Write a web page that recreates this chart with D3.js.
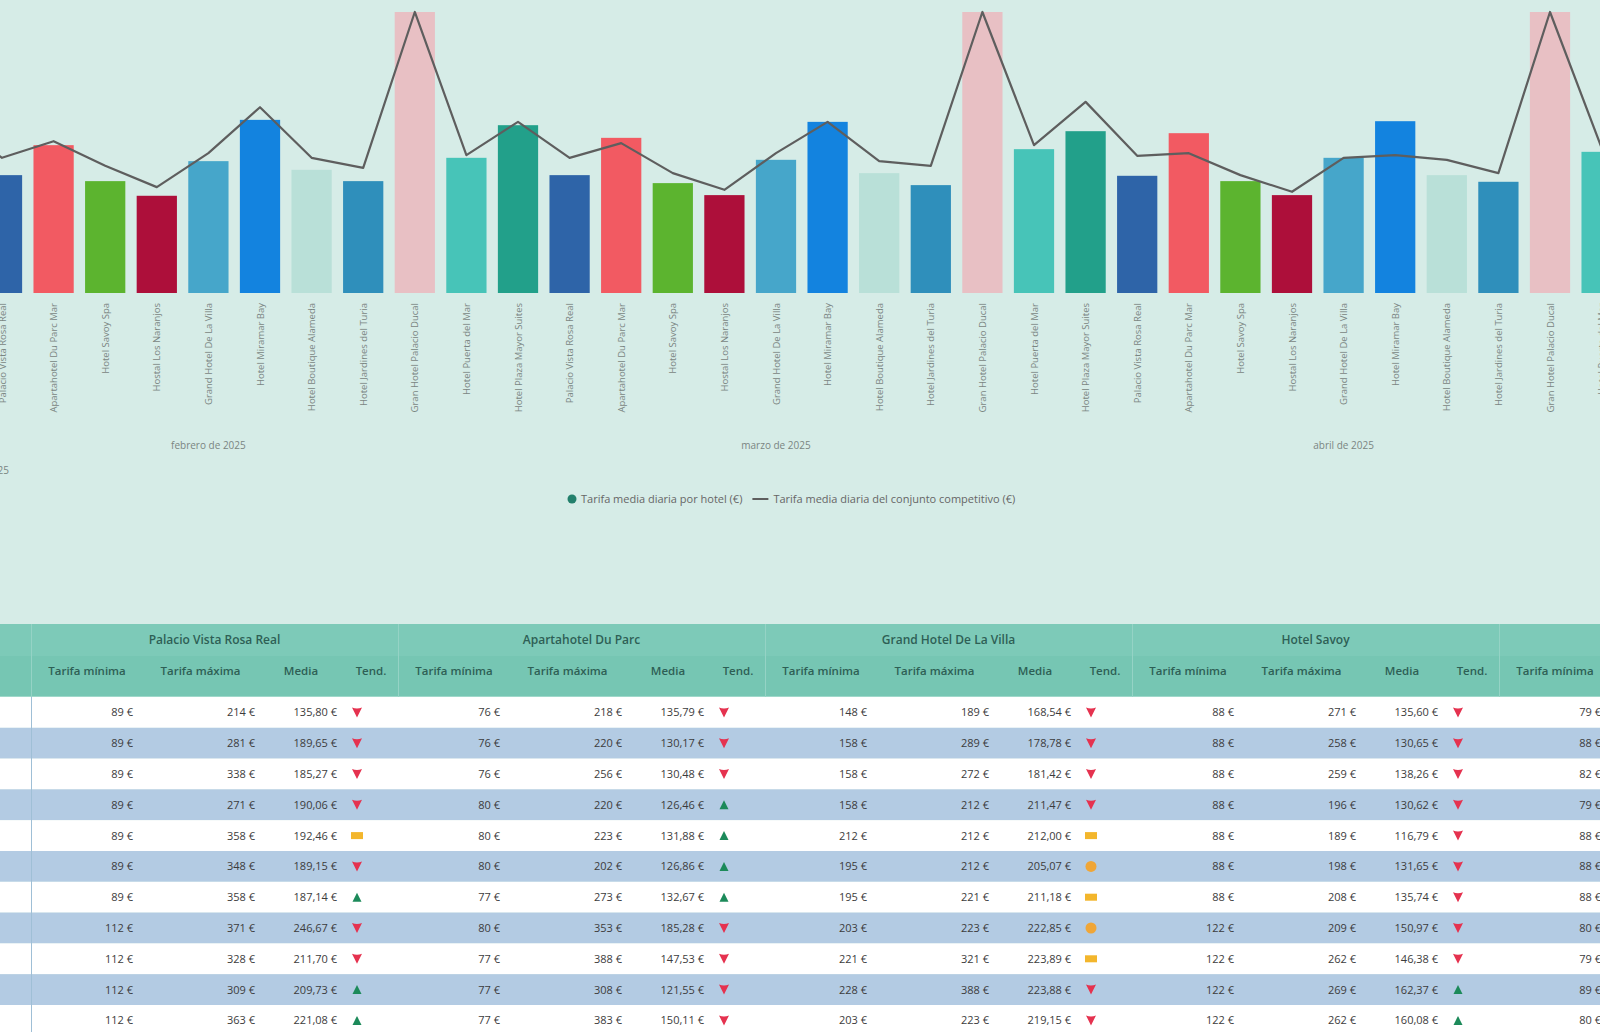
<!DOCTYPE html>
<html lang="es">
<head>
<meta charset="utf-8">
<script src="https://cdn.jsdelivr.net/npm/d3@7"></script>
<style>
  body { margin: 0; background: #d6ece7; overflow: hidden; }
  svg { display: block; font-family: 'Segoe UI', 'Open Sans', sans-serif; }
</style>
</head>
<body>
<div id="vis"></div>
<script>
const W = 1600, H = 1032;

// ---- bar + line chart data (three months, eleven hotels each)
const months = ['febrero de 2025', 'marzo de 2025', 'abril de 2025'];
const hotels = [
  'Hotel Plaza Mayor Suites', 'Palacio Vista Rosa Real', 'Apartahotel Du Parc Mar',
  'Hotel Savoy Spa', 'Hostal Los Naranjos', 'Grand Hotel De La Villa',
  'Hotel Miramar Bay', 'Hotel Boutique Alameda', 'Hotel Jardines del Turia',
  'Gran Hotel Palacio Ducal', 'Hotel Puerta del Mar'
];
const hotelColors = ['#22a08a', '#2e64a8', '#f25a62', '#5cb42f', '#ad0f3a', '#46a6ca',
                     '#1383df', '#b9e0d8', '#2f8fbb', '#e8c0c4', '#47c4b8'];
const priceFeb = [249, 177, 222, 168, 146, 198, 260, 185, 168, 422, 203];
const priceMar = [252, 177, 233, 165, 147, 200, 257, 180, 162, 422, 216];
const priceApr = [243, 176, 240, 168, 147, 203, 258, 177, 167, 422, 212];
const marketFeb = [259, 203, 228, 191, 159, 210, 279, 203, 188, 422, 207];
const marketMar = [257, 203, 225, 180, 155, 210, 257, 198, 191, 422, 222];
const marketApr = [287, 206, 210, 177, 152, 203, 207, 200, 180, 422, 218];

// ---- table data (rows = days, one block per hotel)
const tableHotels = ['Palacio Vista Rosa Real', 'Apartahotel Du Parc', 'Grand Hotel De La Villa', 'Hotel Savoy', ''];
const colNames = ['Tarifa mínima', 'Tarifa máxima', 'Media', 'Tend.'];
const minRates = [
  [89, 89, 89, 89, 89, 89, 89, 112, 112, 112, 112],
  [76, 76, 76, 80, 80, 80, 77, 80, 77, 77, 77],
  [148, 158, 158, 158, 212, 195, 195, 203, 221, 228, 203],
  [88, 88, 88, 88, 88, 88, 88, 122, 122, 122, 122],
  [79, 88, 82, 79, 88, 88, 88, 80, 79, 89, 80]
];
const maxRates = [
  [214, 281, 338, 271, 358, 348, 358, 371, 328, 309, 363],
  [218, 220, 256, 220, 223, 202, 273, 353, 388, 308, 383],
  [189, 289, 272, 212, 212, 212, 221, 223, 321, 388, 223],
  [271, 258, 259, 196, 189, 198, 208, 209, 262, 269, 262],
  null
];
const avgRates = [
  [135.80, 189.65, 185.27, 190.06, 192.46, 189.15, 187.14, 246.67, 211.70, 209.73, 221.08],
  [135.79, 130.17, 130.48, 126.46, 131.88, 126.86, 132.67, 185.28, 147.53, 121.55, 150.11],
  [168.54, 178.78, 181.42, 211.47, 212.00, 205.07, 211.18, 222.85, 223.89, 223.88, 219.15],
  [135.60, 130.65, 138.26, 130.62, 116.79, 131.65, 135.74, 150.97, 146.38, 162.37, 160.08],
  null
];
const trends = [
  ['d', 'd', 'd', 'd', 'f', 'd', 'u', 'd', 'd', 'u', 'u'],
  ['d', 'd', 'd', 'u', 'u', 'u', 'u', 'd', 'd', 'd', 'd'],
  ['d', 'd', 'd', 'd', 'f', 'c', 'f', 'c', 'f', 'd', 'd'],
  ['d', 'd', 'd', 'd', 'd', 'd', 'd', 'd', 'd', 'u', 'u'],
  null
];

const svg = d3.select('#vis').append('svg').attr('width', W).attr('height', H);

// ---------------- chart ----------------
const priceByMonth = [priceFeb, priceMar, priceApr];
const marketByMonth = [marketFeb, marketMar, marketApr];
const points = [];
months.forEach((m, mi) => hotels.forEach((h, hi) => points.push({
  key: m + '|' + h, month: m, hotel: h, hi,
  price: priceByMonth[mi][hi], market: marketByMonth[mi][hi]
})));

// the visual is scrolled: first bar sits just off the left edge
const step = 51.6;
const x0 = -75.4;
const xScale = d3.scaleBand()
  .domain(points.map(d => d.key))
  .range([x0, x0 + points.length * step])
  .paddingInner(0.22).paddingOuter(0.11);
const yScale = d3.scaleLinear().domain([0, 440]).range([293, 0]);
const color = d3.scaleOrdinal().domain(hotels).range(hotelColors);
const cx = d => xScale(d.key) + xScale.bandwidth() / 2;

const chart = svg.append('g');
chart.selectAll('.bar')
  .data(points)
  .join('rect')
  .attr('class', 'bar')
  .attr('x', d => xScale(d.key))
  .attr('width', xScale.bandwidth())
  .attr('y', d => yScale(d.price))
  .attr('height', d => yScale(0) - yScale(d.price))
  .attr('fill', d => color(d.hotel));

const line = d3.line()
  .x(cx)
  .y(d => yScale(d.market));
chart.append('path')
  .datum(points)
  .attr('d', line)
  .attr('fill', 'none')
  .attr('stroke', '#5e5e5e')
  .attr('stroke-width', 2.2)
  .attr('stroke-linejoin', 'round');

// category tick labels (rotated)
chart.selectAll('.tick-label')
  .data(points)
  .join('text')
  .attr('class', 'tick-label')
  .attr('transform', d => `translate(${cx(d) + 3.5},303) rotate(-90)`)
  .attr('text-anchor', 'end')
  .style('font-size', '9.5px')
  .style('fill', '#7a8582')
  .text(d => d.hotel);

// month labels
chart.selectAll('.month-label')
  .data(months)
  .join('text')
  .attr('class', 'month-label')
  .attr('x', m => {
    const keys = points.filter(p => p.month === m);
    return (cx(keys[0]) + cx(keys[keys.length - 1])) / 2;
  })
  .attr('y', 449)
  .attr('text-anchor', 'middle')
  .style('font-size', '10px')
  .style('fill', '#7a8582')
  .text(m => m);

chart.append('text')
  .attr('x', -14).attr('y', 474)
  .style('font-size', '10px').style('fill', '#7a8582')
  .text('2025');

// legend
const legend = svg.append('g').attr('transform', 'translate(568,499)');
legend.append('circle').attr('cx', 4).attr('cy', 0).attr('r', 4.5).attr('fill', '#23806c');
const lt1 = legend.append('text').attr('x', 13).attr('y', 4)
  .style('font-size', '11px').style('fill', '#666')
  .text('Tarifa media diaria por hotel (€)');
const l1w = lt1.node().getComputedTextLength();
legend.append('line')
  .attr('x1', 13 + l1w + 10).attr('x2', 13 + l1w + 26)
  .attr('y1', 0).attr('y2', 0)
  .attr('stroke', '#5e5e5e').attr('stroke-width', 2);
legend.append('text').attr('x', 13 + l1w + 31).attr('y', 4)
  .style('font-size', '11px').style('fill', '#666')
  .text('Tarifa media diaria del conjunto competitivo (€)');

// ---------------- table ----------------
const rowIdx = d3.range(11);
const rowScale = d3.scaleBand().domain(rowIdx).range([697, 697 + 11 * 30.8]);
const groupScale = d3.scaleBand().domain(d3.range(tableHotels.length)).range([31, 31 + tableHotels.length * 367]);
const subCols = [[0, 112], [112, 227], [227, 313], [313, 367]];
const fmtEuro = v => d3.format(',.2f')(v).replace(/,/g, 'X').replace('.', ',').replace(/X/g, '.') + ' €';

const table = svg.append('g');
table.selectAll('.row-bg')
  .data(rowIdx)
  .join('rect')
  .attr('class', 'row-bg')
  .attr('x', 0).attr('width', W)
  .attr('y', r => rowScale(r)).attr('height', rowScale.bandwidth())
  .attr('fill', r => r % 2 ? '#b3cbe3' : '#ffffff');

table.append('rect').attr('x', 0).attr('y', 624).attr('width', W).attr('height', 73).attr('fill', '#7dcab8');
table.append('rect').attr('x', 0).attr('y', 656).attr('width', W).attr('height', 41).attr('fill', '#76c6b3');
table.append('line').attr('x1', 0).attr('x2', W).attr('y1', 696.5).attr('y2', 696.5)
  .attr('stroke', '#9fd8ca').attr('stroke-width', 1);
table.append('line').attr('x1', 31.5).attr('x2', 31.5).attr('y1', 624).attr('y2', H)
  .attr('stroke', '#9fbfd6').attr('stroke-width', 1);

const groups = table.selectAll('.hotel-group')
  .data(tableHotels.map((name, gi) => ({name, gi})))
  .join('g')
  .attr('class', 'hotel-group')
  .attr('transform', d => `translate(${groupScale(d.gi)},0)`);

groups.append('line')
  .attr('x1', 0.5).attr('x2', 0.5).attr('y1', 624).attr('y2', 697)
  .attr('stroke', '#95d3c5');
groups.append('text')
  .attr('x', groupScale.bandwidth() / 2).attr('y', 644)
  .attr('text-anchor', 'middle')
  .style('font-size', '12px').style('font-weight', 600).style('fill', '#2e5f55')
  .text(d => d.name);
groups.selectAll('.col-name')
  .data(colNames)
  .join('text')
  .attr('class', 'col-name')
  .attr('x', (c, i) => (subCols[i][0] + subCols[i][1]) / 2)
  .attr('y', 675)
  .attr('text-anchor', 'middle')
  .style('font-size', '11.5px').style('font-weight', 600).style('fill', '#2e5f55')
  .text(c => c);

const cellY = r => rowScale(r) + rowScale.bandwidth() / 2 + 4;
groups.each(function(g) {
  const grp = d3.select(this);
  const gi = g.gi;
  grp.selectAll('.min')
    .data(minRates[gi])
    .join('text')
    .attr('class', 'min')
    .attr('x', 102).attr('y', (v, r) => cellY(r))
    .attr('text-anchor', 'end')
    .style('font-size', '11px').style('fill', '#3c3c3c')
    .text(v => v + ' €');
  if (!maxRates[gi]) return;
  grp.selectAll('.max')
    .data(maxRates[gi])
    .join('text')
    .attr('class', 'max')
    .attr('x', 224).attr('y', (v, r) => cellY(r))
    .attr('text-anchor', 'end')
    .style('font-size', '11px').style('fill', '#3c3c3c')
    .text(v => v + ' €');
  grp.selectAll('.avg')
    .data(avgRates[gi])
    .join('text')
    .attr('class', 'avg')
    .attr('x', 306).attr('y', (v, r) => cellY(r))
    .attr('text-anchor', 'end')
    .style('font-size', '11px').style('fill', '#3c3c3c')
    .text(fmtEuro);
  const icon = grp.selectAll('.trend')
    .data(trends[gi])
    .join('g')
    .attr('class', 'trend')
    .attr('transform', (t, r) => `translate(326,${rowScale(r) + rowScale.bandwidth() / 2})`);
  icon.filter(t => t === 'd').append('path')
    .attr('d', 'M-5,-5 Q0,-3 5,-5 L0,5 Z').attr('fill', '#e5324f');
  icon.filter(t => t === 'u').append('path')
    .attr('d', 'M-4.5,4.5 L4.5,4.5 L0,-4.5 Z').attr('fill', '#1c8a5a');
  icon.filter(t => t === 'f').append('rect')
    .attr('x', -6).attr('y', -3.5).attr('width', 12).attr('height', 7).attr('fill', '#f3b62c');
  icon.filter(t => t === 'c').append('circle')
    .attr('r', 5.5).attr('fill', '#f0a637');
});
</script>
</body>
</html>
